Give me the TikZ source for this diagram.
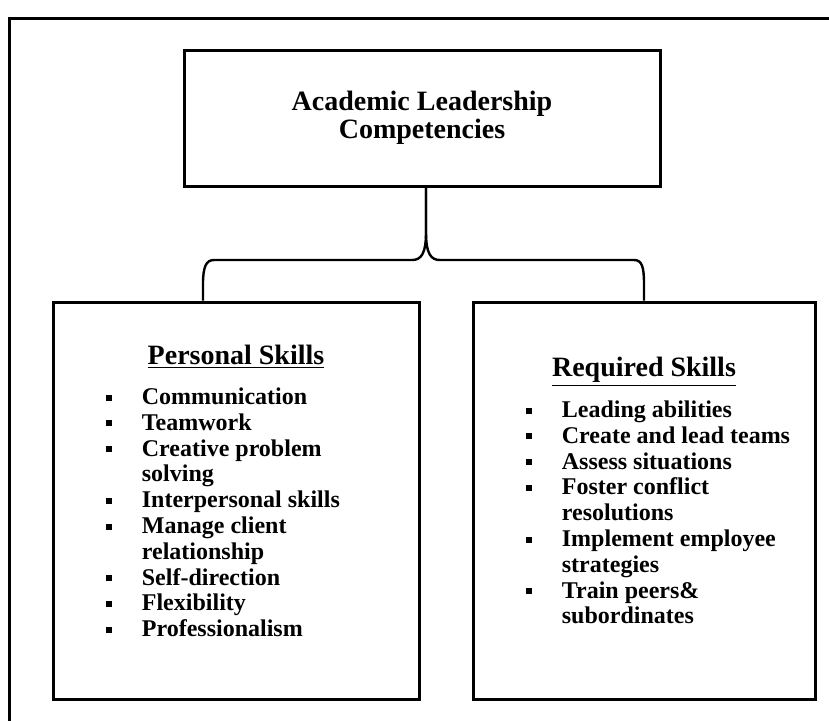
\documentclass[tikz,border=0pt]{standalone}
\usepackage{fontspec}
\setmainfont{Liberation Serif}
\usepackage{tikz}
\usetikzlibrary{positioning}
\newcommand{\sqbullet}{\rule[2pt]{3pt}{3pt}}

\begin{document}
\begin{tikzpicture}[x=0.5pt, y=-0.5pt, line join=miter,
 box/.style={draw, line width=1.5pt, inner sep=0pt},
 head/.style={font=\fontsize{14}{14}\selectfont\bfseries, inner sep=0pt},
 list/.style={font=\fontsize{12}{12.9}\selectfont\bfseries, inner sep=0pt, align=left},
 brace/.style={line width=1.2pt}]
\useasboundingbox (0,0) rectangle (829,720);
\clip (0,0) rectangle (829,720);
% outer frame, only its top and left sides are on the page
\draw[line width=1.5pt] (9,740) -- (9,18) -- (850,18);

\node[box, head, minimum width=238pt, minimum height=68pt, align=center] (top) at (422,118)
 {Academic Leadership\\Competencies};
\node[box, minimum width=183pt, minimum height=198.5pt] (personal) at (236,500.5) {};
\node[box, minimum width=171pt, minimum height=198.5pt] (required) at (644,500.5) {};

\node[head, anchor=base] (phead) at ([yshift=-32pt]personal.north) {\underline{Personal Skills}};
\node[head, anchor=base] (rhead) at ([yshift=-38pt]required.north) {\underline{Required Skills}};

\node[list, anchor=base west] (plist) at ([xshift=27pt,yshift=-52pt]personal.north west)
 {\begin{tabular}[t]{@{}l@{\hspace{15pt}}l@{}}
  \sqbullet & Communication\\
  \sqbullet & Teamwork\\
  \sqbullet & Creative problem\\
            & solving\\
  \sqbullet & Interpersonal skills\\
  \sqbullet & Manage client\\
            & relationship\\
  \sqbullet & Self-direction\\
  \sqbullet & Flexibility\\
  \sqbullet & Professionalism
 \end{tabular}};
\node[list, anchor=base west] (rlist) at ([xshift=27pt,yshift=-58.5pt]required.north west)
 {\begin{tabular}[t]{@{}l@{\hspace{15pt}}l@{}}
  \sqbullet & Leading abilities\\
  \sqbullet & Create and lead teams\\
  \sqbullet & Assess situations\\
  \sqbullet & Foster conflict\\
            & resolutions\\
  \sqbullet & Implement employee\\
            & strategies\\
  \sqbullet & Train peers\&\\
            & subordinates
 \end{tabular}};

% curly brace from the top box down to both columns
\coordinate (fork) at ([xshift=2pt]top.south);
\coordinate (pjoin) at ([xshift=-16.5pt]personal.north);
\draw[brace] (fork) -- (426,232) .. controls (426,254) and (421,260) .. (412,260)
 -- (214,260) .. controls (206,260) and (203,267) .. (203,284) -- (pjoin);
\draw[brace] (fork) -- (426,232) .. controls (426,254) and (431,260) .. (440,260)
 -- (634,260) .. controls (642,260) and (644,267) .. (644,284) -- (required.north);
\end{tikzpicture}
\end{document}
